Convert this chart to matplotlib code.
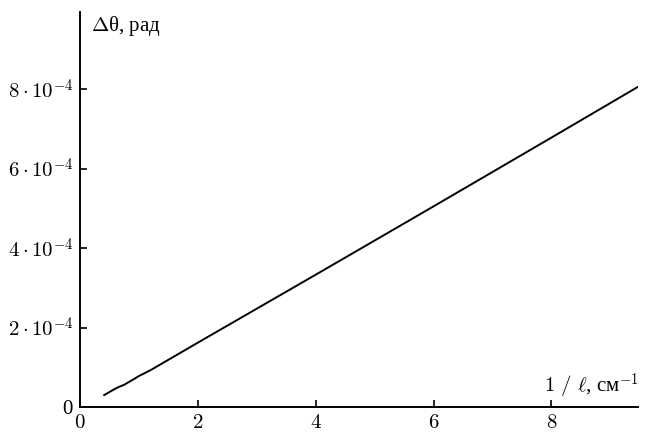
import numpy as np
import matplotlib
matplotlib.use("Agg")
import matplotlib.pyplot as plt
from matplotlib.ticker import FixedLocator, FixedFormatter

plt.rcParams['mathtext.fontset'] = 'cm'
plt.rcParams['font.family'] = ['Liberation Serif', 'DejaVu Serif']

# angular shift vs inverse length
inv_len = [0.41, 0.55, 0.65, 0.75, 0.90, 1.00, 1.20, 2.00, 4.00, 6.00, 8.00, 9.46]
dtheta = [0.30, 0.42, 0.50, 0.56, 0.69, 0.78, 0.93, 1.62, 3.33, 5.05, 6.78, 8.05]  # x1e-4 rad

x_ticks = [0, 2, 4, 6, 8]
y_ticks = [0, 2e-4, 4e-4, 6e-4, 8e-4]
y_tick_labels = ['0', r'$2\cdot10^{-4}$', r'$4\cdot10^{-4}$', r'$6\cdot10^{-4}$', r'$8\cdot10^{-4}$']

fig = plt.figure(figsize=(6.49, 4.48), dpi=100)
ax = fig.add_axes([0.1233, 0.0915, 0.983 - 0.1233, 0.973 - 0.0915])

ax.plot(inv_len, np.array(dtheta) * 1e-4, color='black', lw=1.4)

ax.set_xlim(0, 9.47)
ax.set_ylim(0, 9.94e-4)
ax.spines['top'].set_visible(False)
ax.spines['right'].set_visible(False)
for s in ('left', 'bottom'):
    ax.spines[s].set_linewidth(1.4)

ax.xaxis.set_major_locator(FixedLocator(x_ticks))
ax.set_xticklabels([rf'${v}$' for v in x_ticks])
ax.yaxis.set_major_locator(FixedLocator(y_ticks))
ax.yaxis.set_major_formatter(FixedFormatter(y_tick_labels))
ax.tick_params(direction='in', length=5, width=1.2, labelsize=15, pad=5)

ax.text(0.02, 0.995, r'$\Delta$θ, рад', transform=ax.transAxes,
        ha='left', va='top', fontsize=15)
ax.text(1.002, 0.015, r'$1\ /\ \ell$, см$^{-1}$', transform=ax.transAxes,
        ha='right', va='bottom', fontsize=15)

fig.savefig('out.png', dpi=100)
